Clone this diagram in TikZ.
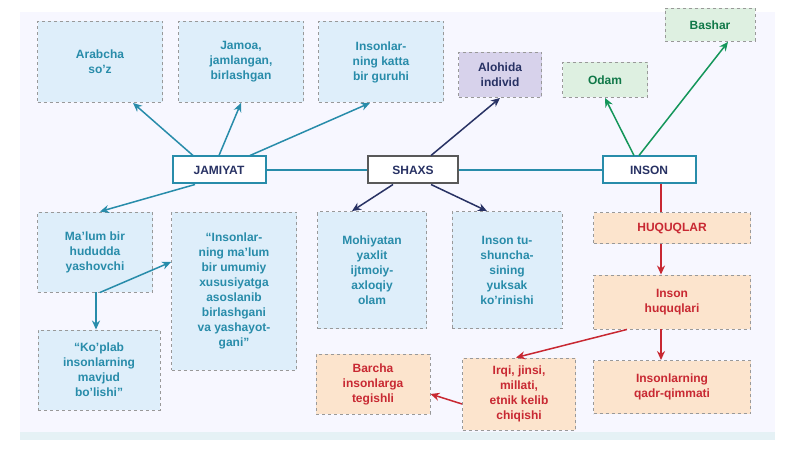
\documentclass[tikz,border=0pt]{standalone}
\usepackage{fontspec}
\setmainfont{Liberation Sans}
\usetikzlibrary{arrows.meta}
\definecolor{tealT}{RGB}{40,140,170}
\definecolor{blueF}{RGB}{222,238,250}
\definecolor{redT}{RGB}{200,40,50}
\definecolor{redF}{RGB}{252,228,205}
\definecolor{greenT}{RGB}{20,150,90}
\definecolor{greenF}{RGB}{222,240,225}
\definecolor{purpF}{RGB}{215,210,235}
\definecolor{navyT}{RGB}{40,50,100}
\newcommand{\boxfont}{\fontsize{12}{15}\selectfont\bfseries}
\tikzstyle{blueNode} = [rectangle, draw=gray!80, dashed, line width=0.9pt, fill=blueF, text=tealT, font=\boxfont, align=center, inner sep=2pt]
\tikzstyle{redNode} = [rectangle, draw=gray!80, dashed, line width=0.9pt, fill=redF, text=redT, font=\boxfont, align=center, inner sep=2pt]
\tikzstyle{greenNode} = [rectangle, draw=gray!80, dashed, line width=0.9pt, fill=greenF, text=greenT!80!black, font=\boxfont, align=center]
\tikzstyle{keyNode} = [rectangle, draw=tealT, line width=2pt, fill=white, text=navyT, font=\boxfont, minimum width=93pt, minimum height=27pt]
\tikzstyle{arrow} = [line width=1.5pt,-{Stealth[length=9pt,width=8pt]}]
\begin{document}
\begin{tikzpicture}[x=1pt,y=-1pt]
    \useasboundingbox (0,0) rectangle (800,449);
    \fill[blue!3] (20,12) rectangle (775,440);
    \fill[tealT!12] (20,432) rectangle (775,440);

    \node (arabcha)[blueNode, minimum width=125pt, minimum height=81pt] at (100,62) {Arabcha\\so'z};
    \node (jamoa)[blueNode, minimum width=125pt, minimum height=81pt] at (241,62) {Jamoa,\\jamlangan,\\birlashgan};
    \node (guruh)[blueNode, minimum width=125pt, minimum height=81pt] at (381,62) {Insonlar-\\ning katta\\bir guruhi};
    \node (individ)[blueNode, fill=purpF, text=navyT, minimum width=83pt, minimum height=45pt] at (500,75) {Alohida\\individ};
    \node (odam)[greenNode, minimum width=85pt, minimum height=35pt] at (605,80) {Odam};
    \node (bashar)[greenNode, minimum width=90pt, minimum height=33pt] at (710,25) {Bashar};

    \node (jamiyat)[keyNode] at (219,170) {JAMIYAT};
    \node (shaxs)[keyNode, draw=gray!70!black, minimum width=90pt] at (413,170) {SHAXS};
    \node (inson)[keyNode] at (649,170) {INSON};

    \node (hudud)[blueNode, minimum width=115pt, minimum height=80pt] at (95,252) {Ma'lum bir\\hududda\\yashovchi};
    \node (umumiy)[blueNode, minimum width=125pt, minimum height=158pt] at (234,291) {``Insonlar-\\ning ma'lum\\bir umumiy\\xususiyatga\\asoslanib\\birlashgani\\va yashayot-\\gani''};
    \node (koplab)[blueNode, minimum width=122pt, minimum height=80pt] at (99,370) {``Ko'plab\\insonlarning\\mavjud\\bo'lishi''};
    \node (mohiyat)[blueNode, minimum width=109pt, minimum height=117pt] at (372,270) {Mohiyatan\\yaxlit\\ijtmoiy-\\axloqiy\\olam};
    \node (tushuncha)[blueNode, minimum width=110pt, minimum height=117pt] at (507,270) {Inson tu-\\shuncha-\\sining\\yuksak\\ko'rinishi};

    \node (huquqlar)[redNode, minimum width=157pt, minimum height=31pt] at (672,228) {HUQUQLAR};
    \node (ihuquq)[redNode, minimum width=157pt, minimum height=54pt] at (672,302) {Inson\\huquqlari};
    \node (barcha)[redNode, minimum width=114pt, minimum height=60pt] at (373,384) {Barcha\\insonlarga\\tegishli};
    \node (irqi)[redNode, minimum width=113pt, minimum height=72pt] at (519,394) {Irqi, jinsi,\\millati,\\etnik kelib\\chiqishi};
    \node (qadr)[redNode, minimum width=157pt, minimum height=53pt] at (672,387) {Insonlarning\\qadr-qimmati};

    \draw [tealT, line width=1.5pt] (jamiyat) -- (shaxs);
    \draw [tealT, line width=1.5pt] (shaxs) -- (inson);

    \draw [arrow, tealT] ([xshift=-26pt]jamiyat.north) -- ([xshift=33pt]arabcha.south);
    \draw [arrow, tealT] (jamiyat.north) -- (jamoa.south);
    \draw [arrow, tealT] ([xshift=31pt]jamiyat.north) -- ([xshift=-11pt]guruh.south);
    \draw [arrow, tealT] ([xshift=-24pt]jamiyat.south) -- ([xshift=5pt]hudud.north);
    \draw [arrow, tealT] ([xshift=1pt]hudud.south) -- ([xshift=-3pt]koplab.north);
    \draw [arrow, tealT] ([xshift=5pt]hudud.south) -- ([yshift=29pt]umumiy.west);

    \draw [arrow, navyT] ([xshift=18pt]shaxs.north) -- (individ.south);
    \draw [arrow, navyT] ([xshift=-20pt]shaxs.south) -- ([xshift=-20pt]mohiyat.north);
    \draw [arrow, navyT] ([xshift=18pt]shaxs.south) -- ([xshift=-20pt]tushuncha.north);

    \draw [arrow, greenT] ([xshift=-15pt]inson.north) -- (odam.south);
    \draw [arrow, greenT] ([xshift=-10pt]inson.north) -- ([xshift=18pt]bashar.south);

    \draw [redT, line width=1.5pt] ([xshift=12pt]inson.south) -- ([xshift=-11pt]huquqlar.north);
    \draw [arrow, redT] ([xshift=-11pt]huquqlar.south) -- ([xshift=-11pt]ihuquq.north);
    \draw [arrow, redT] ([xshift=-45pt]ihuquq.south) -- ([xshift=-3pt]irqi.north);
    \draw [arrow, redT] ([xshift=-11pt]ihuquq.south) -- ([xshift=-11pt]qadr.north);
    \draw [arrow, redT] ([yshift=-10pt]irqi.west) -- ([yshift=-10pt]barcha.east);
  \end{tikzpicture}
\end{document}
